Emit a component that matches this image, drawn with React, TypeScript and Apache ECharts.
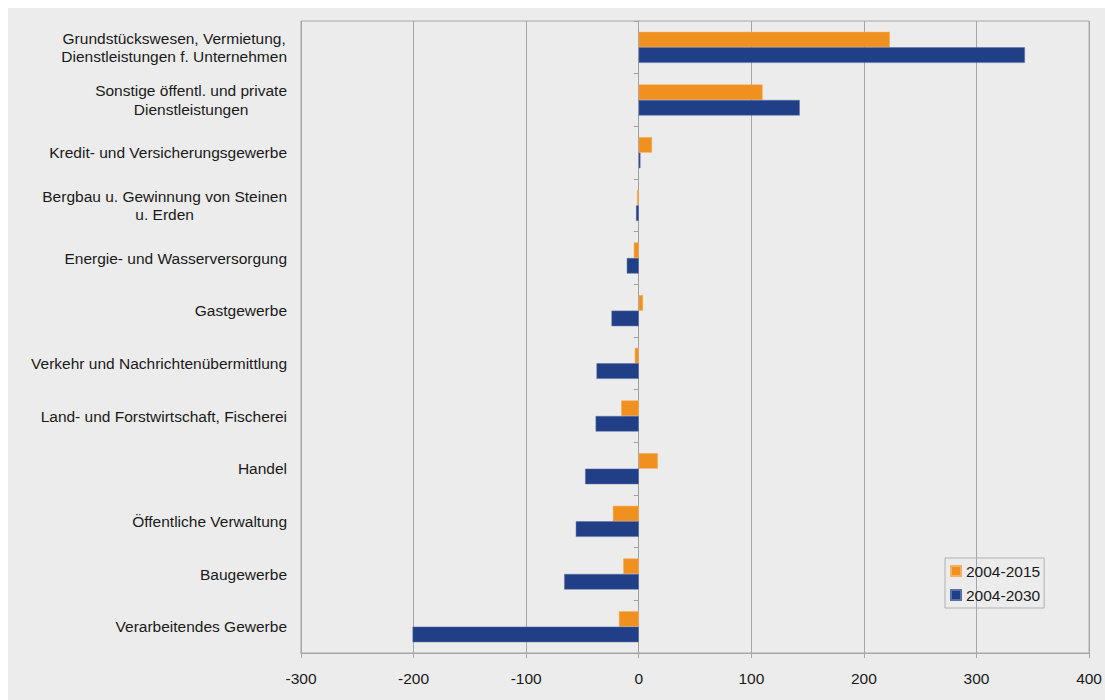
import React, { useEffect, useRef } from "react";
import * as echarts from "echarts";

const categories = [
  "Grundstückswesen, Vermietung,\nDienstleistungen f. Unternehmen",
  "Sonstige öffentl. und private\nDienstleistungen",
  "Kredit- und Versicherungsgewerbe",
  "Bergbau u. Gewinnung von Steinen\nu. Erden",
  "Energie- und Wasserversorgung",
  "Gastgewerbe",
  "Verkehr und Nachrichtenübermittlung",
  "Land- und Forstwirtschaft, Fischerei",
  "Handel",
  "Öffentliche Verwaltung",
  "Baugewerbe",
  "Verarbeitendes Gewerbe",
];

const series2015 = [223, 110, 11.8, -1.5, -4.4, 3.8, -3.5, -15.6, 17, -23, -13.8, -17.6];
const series2030 = [343, 143, 1.5, -2.4, -10.6, -24.2, -37.5, -38.3, -47.6, -55.9, -66.2, -200.9];

const seriesNames = ["2004-2015", "2004-2030"];
const xTicks = { min: -300, max: 400, interval: 100 };

const FONT = "'Liberation Sans', Arial, sans-serif";
const FS = 15.5;

export default function App() {
  const ref = useRef<HTMLDivElement>(null);
  useEffect(() => {
    if (!ref.current) return;
    const chart = echarts.init(ref.current, null, { renderer: "svg" });
    chart.setOption({
      animation: false,
      backgroundColor: "#ececec",
      textStyle: { fontFamily: FONT },
      grid: {
        left: 293,
        right: 13,
        top: 13,
        bottom: 47,
        show: true,
        borderColor: "#a6a6a6",
        borderWidth: 1,
        backgroundColor: "transparent",
      },
      legend: {
        orient: "vertical",
        left: 937,
        top: 550,
        itemWidth: 10,
        itemHeight: 10,
        itemGap: 8,
        padding: [5, 4, 5, 5],
        borderColor: "#b0b0b0",
        borderWidth: 1,
        icon: "rect",
        textStyle: { fontSize: FS, color: "#1a1a1a", fontFamily: FONT, padding: [0, 0, 0, 0] },
        data: seriesNames,
      },
      xAxis: {
        type: "value",
        min: xTicks.min,
        max: xTicks.max,
        interval: xTicks.interval,
        axisLine: { show: true, onZero: false, lineStyle: { color: "#a6a6a6" } },
        axisTick: { show: true, length: 5, lineStyle: { color: "#a6a6a6" } },
        axisLabel: { fontSize: FS, color: "#1a1a1a", margin: 17, fontFamily: FONT },
        splitLine: { show: true, lineStyle: { color: "#a6a6a6", width: 1 } },
      },
      yAxis: [
        {
          type: "category",
          data: categories,
          inverse: true,
          position: "left",
          axisLine: { show: false, onZero: false },
          axisTick: { show: false },
          axisLabel: {
            margin: 14,
            color: "#1a1a1a",
            fontSize: FS,
            fontFamily: FONT,
            formatter: (v: string) =>
              v
                .split("\n")
                .map((l) => `{c|${l}}`)
                .join("\n"),
            rich: {
              c: { align: "center", fontSize: FS, lineHeight: 18.5, color: "#1a1a1a", fontFamily: FONT },
            },
          },
        },
        {
          type: "category",
          data: categories,
          inverse: true,
          position: "left",
          axisLine: { show: true, onZero: true, lineStyle: { color: "#a0a0a0" } },
          axisTick: { show: true, length: 5, lineStyle: { color: "#a0a0a0" } },
          axisLabel: { show: false },
        },
      ],
      series: [
        {
          name: seriesNames[0],
          type: "bar",
          data: series2015,
          barGap: "0%",
          barCategoryGap: "41%",
          itemStyle: { color: "#f0901e", borderColor: "#f5b062", borderWidth: 0.5 },
        },
        {
          name: seriesNames[1],
          type: "bar",
          data: series2030,
          barGap: "0%",
          barCategoryGap: "41%",
          itemStyle: { color: "#213f86", borderColor: "#5a6fa6", borderWidth: 0.5 },
        },
      ],
    });
    return () => chart.dispose();
  }, []);
  return (
    <div
      ref={ref}
      style={{ position: "fixed", left: 8, top: 8, width: 1097, height: 692 }}
    />
  );
}
